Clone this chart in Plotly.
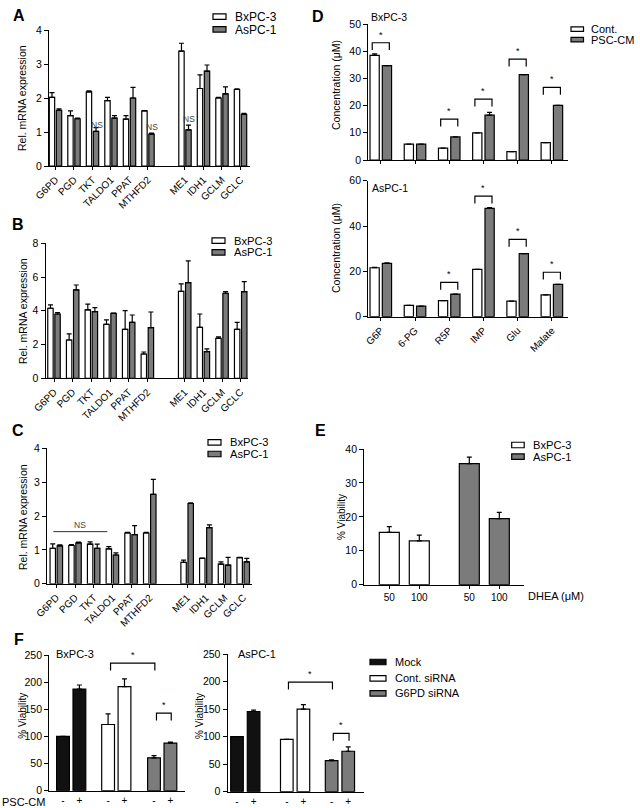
import plotly.graph_objects as go

W, H = 640, 808
FONT = "Liberation Sans, Arial, sans-serif"
GRAY = "#7b7b7b"
WHITE = "#ffffff"
BLACK = "#111111"

# ---------------- data ----------------
genes = ["G6PD", "PGD", "TKT", "TALDO1", "PPAT", "MTHFD2", "ME1", "IDH1", "GCLM", "GCLC"]
gene_pos = [0, 1, 2, 3, 4, 5, 7, 8, 9, 10]

A_bx = [2.02, 1.48, 2.18, 1.92, 1.38, 1.62, 3.38, 2.28, 2.00, 2.25]
A_bx_err = [0.14, 0.14, 0.03, 0.10, 0.10, 0.01, 0.23, 0.40, 0.02, 0.02]
A_as = [1.64, 1.39, 1.02, 1.41, 2.00, 0.94, 1.06, 2.79, 2.12, 1.52]
A_as_err = [0.04, 0.02, 0.11, 0.07, 0.31, 0.03, 0.14, 0.18, 0.21, 0.03]
A_ns_idx = [2, 5, 6]
A_ns_y = [1.22, 1.16, 1.38]

B_bx = [4.15, 2.27, 4.05, 3.20, 2.90, 1.44, 5.16, 3.02, 2.37, 2.90]
B_bx_err = [0.20, 0.36, 0.34, 0.26, 1.11, 0.12, 0.43, 0.79, 0.08, 0.42]
B_as = [3.81, 5.24, 3.95, 3.85, 3.32, 3.00, 5.67, 1.58, 5.04, 5.14]
B_as_err = [0.09, 0.29, 0.24, 0.02, 0.43, 0.93, 1.29, 0.16, 0.10, 0.59]

C_bx = [1.05, 1.13, 1.17, 1.03, 1.50, 1.50, 0.63, 0.75, 0.58, 0.77]
C_bx_err = [0.13, 0.03, 0.07, 0.07, 0.02, 0.02, 0.07, 0.01, 0.07, 0.01]
C_as = [1.12, 1.21, 1.05, 0.85, 1.45, 2.64, 2.37, 1.66, 0.55, 0.65]
C_as_err = [0.03, 0.02, 0.12, 0.06, 0.27, 0.44, 0.02, 0.08, 0.23, 0.10]
C_ns_span = [-0.16, 2.73]
C_ns_line_y = 1.54
C_ns_text_y = 1.75

metabolites = ["G6P", "6-PG", "R5P", "IMP", "Glu", "Malate"]
Dtop_cont = [38.5, 5.8, 4.4, 10.0, 3.1, 6.4]
Dtop_cont_err = [0.5, 0, 0, 0, 0, 0]
Dtop_cm = [34.7, 5.8, 8.5, 16.5, 31.4, 20.1]
Dtop_cm_err = [0, 0, 0, 1.0, 0, 0]
Dtop_sig_idx = [0, 2, 3, 4, 5]
Dtop_sig_y = [43.1, 15.0, 22.4, 37.1, 26.7]

Dbot_cont = [21.6, 5.0, 7.1, 20.9, 6.9, 9.6]
Dbot_cont_err = [0.2, 0, 0, 0, 0, 0]
Dbot_cm = [23.5, 4.7, 10.0, 47.8, 27.8, 14.3]
Dbot_cm_err = [0.3, 0, 0, 0.3, 0, 0]
Dbot_sig_idx = [2, 3, 4, 5]
Dbot_sig_y = [15.1, 53.2, 34.1, 19.6]

dhea_labels = ["50", "100", "50", "100"]
E_vals = [15.4, 12.9, 35.7, 19.5]
E_err = [1.7, 1.7, 1.9, 1.8]

psc_signs = ["-", "+", "-", "+", "-", "+"]
F_left = [100, 187.4, 122, 191.6, 60.5, 87.7]
F_left_err = [0, 7.3, 19.5, 14.4, 4.2, 1.8]
F_left_sig = [(2, 4, 235), (4, 5, 143)]
F_right = [100, 145.6, 94.9, 150, 56.3, 73.4]
F_right_err = [0, 2.4, 0, 8, 1.7, 8]
F_right_sig = [(2, 4, 199), (4, 5, 106)]

# ---------------- figure ----------------
fig = go.Figure()
annotations = []
shapes = []


def px(xp, yp):
    return xp / W, 1 - yp / H


def bars(ax, xs, ys, errs, colors, width):
    fig.add_trace(go.Bar(
        x=xs, y=ys, width=width,
        marker=dict(color=colors, line=dict(color="black", width=1.2)),
        error_y=dict(type="data", array=errs, arrayminus=[0] * len(ys), symmetric=False,
                     color="black", thickness=1.2, width=2.5, visible=True),
        xaxis="x" + ax, yaxis="y" + ax, showlegend=False, hoverinfo="skip"))


def axes(ax, xdom, ydom, xrange, yrange, ytickvals, xtickvals, xticktext=None,
         xtickangle=0, xticks="outside", xlabels=True, xticklen=3):
    xa = dict(domain=[xdom[0] / W, xdom[1] / W], range=xrange, anchor="y" + ax,
              showline=True, linecolor="black", linewidth=1.3, ticks=xticks, ticklen=xticklen,
              tickwidth=1.2, tickcolor="black", showgrid=False, zeroline=False,
              tickmode="array", tickvals=xtickvals, ticktext=xticktext, tickangle=xtickangle,
              showticklabels=xlabels, tickfont=dict(size=10, color="black", family=FONT),
              fixedrange=True, automargin=False)
    ya = dict(domain=[1 - ydom[1] / H, 1 - ydom[0] / H], range=yrange, anchor="x" + ax,
              showline=True, linecolor="black", linewidth=1.3, ticks="outside", ticklen=4,
              tickwidth=1.2, tickcolor="black", showgrid=False, zeroline=False,
              tickmode="array", tickvals=ytickvals,
              tickfont=dict(size=10.5, color="black", family=FONT), fixedrange=True,
              automargin=False)
    fig.update_layout(**{"xaxis" + ax: xa, "yaxis" + ax: ya})


def text(xp, yp, s, size=11, bold=False, angle=0, xanchor="center", color="black", height=None):
    x, y = px(xp, yp)
    a = dict(x=x, y=y, xref="paper", yref="paper", text=s, showarrow=False,
             textangle=angle, xanchor=xanchor, yanchor="middle", borderpad=0,
             font=dict(size=size, family=FONT, color=color,
                       weight="bold" if bold else "normal"))
    if height:
        a["height"] = height
    annotations.append(a)


def legend(x0, y_list, labels, fills, size=12, w=13, h=5.5, gap=8):
    for yc, lab, fc in zip(y_list, labels, fills):
        a0, b0 = px(x0, yc - h / 2)
        a1, b1 = px(x0 + w, yc + h / 2)
        shapes.append(dict(type="rect", xref="paper", yref="paper", x0=a0, x1=a1, y0=b1, y1=b0,
                           fillcolor=fc, line=dict(color="black", width=1.2)))
        text(x0 + w + gap, yc, lab, size=size, xanchor="left", height=size - 1)


def bracket(ax, x0, x1, ytop, drop, star_off, star_size=9):
    shapes.append(dict(type="path", xref="x" + ax, yref="y" + ax,
                       path=f"M {x0},{ytop - drop} L {x0},{ytop} L {x1},{ytop} L {x1},{ytop - drop}",
                       line=dict(color="black", width=1.2)))
    annotations.append(dict(x=(x0 + x1) / 2, y=ytop + star_off, xref="x" + ax, yref="y" + ax,
                            text="*", showarrow=False, xanchor="center", yanchor="middle",
                            font=dict(size=star_size, family=FONT, color="black")))


OFF, BW = 0.19, 0.29

# ---- Panel A ----
bars("", [p - OFF for p in gene_pos], A_bx, A_bx_err, WHITE, BW)
bars("", [p + OFF for p in gene_pos], A_as, A_as_err, GRAY, BW)
axes("", (49, 250), (30, 166), [-0.351, 10.514], [0, 4], [0, 1, 2, 3, 4], gene_pos, genes, -45)
for i, yv in zip(A_ns_idx, A_ns_y):
    annotations.append(dict(x=gene_pos[i] + OFF + 0.05, y=yv, xref="x", yref="y", text="NS",
                            showarrow=False, xanchor="center", yanchor="middle",
                            font=dict(size=8.5, family=FONT, color="#444444")))
text(19, 15, "A", 16, True)
text(22, 98, "Rel. mRNA expression", 10.5, angle=-90)
legend(213, [16.7, 29.3], ["BxPC-3", "AsPC-1"], [WHITE, GRAY])

# ---- Panel B ----
bars("2", [p - OFF for p in gene_pos], B_bx, B_bx_err, WHITE, BW)
bars("2", [p + OFF for p in gene_pos], B_as, B_as_err, GRAY, BW)
axes("2", (45.7, 248.3), (243.3, 378.3), [-0.445, 10.407], [0, 8], [0, 2, 4, 6, 8], gene_pos, genes, -45)
text(18, 224, "B", 16, True)
text(23, 311, "Rel. mRNA expression", 10.5, angle=-90)
legend(212, [240.7, 252.3], ["BxPC-3", "AsPC-1"], [WHITE, GRAY], size=11.2)

# ---- Panel C ----
bars("3", [p - OFF for p in gene_pos], C_bx, C_bx_err, WHITE, BW)
bars("3", [p + OFF for p in gene_pos], C_as, C_as_err, GRAY, BW)
axes("3", (47, 252), (448.3, 583.8), [-0.498, 10.47], [0, 4], [0, 1, 2, 3, 4], gene_pos, genes, -45)
shapes.append(dict(type="line", xref="x3", yref="y3", x0=C_ns_span[0], x1=C_ns_span[1],
                   y0=C_ns_line_y, y1=C_ns_line_y, line=dict(color="#333333", width=1)))
annotations.append(dict(x=sum(C_ns_span) / 2, y=C_ns_text_y, xref="x3", yref="y3", text="NS",
                        showarrow=False, xanchor="center", yanchor="middle",
                        font=dict(size=8.5, family=FONT, color="#444444")))
text(18, 430, "C", 16, True)
text(23, 517, "Rel. mRNA expression", 10.5, angle=-90)
legend(208, [442.3, 454], ["BxPC-3", "AsPC-1"], [WHITE, GRAY], size=11.2)

# ---- Panel D ----
d_pos = list(range(len(metabolites)))
DOFF, DBW = 0.18, 0.27
bars("4", [p - DOFF for p in d_pos], Dtop_cont, Dtop_cont_err, WHITE, DBW)
bars("4", [p + DOFF for p in d_pos], Dtop_cm, Dtop_cm_err, GRAY, DBW)
axes("4", (368.3, 568.3), (24, 160), [-0.365, 5.48], [0, 50], [0, 10, 20, 30, 40, 50], d_pos, xlabels=False)
for i, yv in zip(Dtop_sig_idx, Dtop_sig_y):
    bracket("4", d_pos[i] - 0.25, d_pos[i] + 0.25, yv, 50 * 0.054, 50 * 0.06)
bars("5", [p - DOFF for p in d_pos], Dbot_cont, Dbot_cont_err, WHITE, DBW)
bars("5", [p + DOFF for p in d_pos], Dbot_cm, Dbot_cm_err, GRAY, DBW)
axes("5", (368.3, 568.3), (180.7, 316.7), [-0.365, 5.48], [0, 60], [0, 20, 40, 60], d_pos, metabolites, -45)
for i, yv in zip(Dbot_sig_idx, Dbot_sig_y):
    bracket("5", d_pos[i] - 0.25, d_pos[i] + 0.25, yv, 60 * 0.054, 60 * 0.06)
text(318, 16, "D", 16, True)
text(336, 85, "Concentration (μM)", 10.5, angle=-90)
text(336, 248, "Concentration (μM)", 10.5, angle=-90)
text(389, 17, "BxPC-3", 10.5)
text(390, 188, "AsPC-1", 10.5)
legend(571, [29.2, 39.7], ["Cont.", "PSC-CM"], [WHITE, GRAY], size=11, w=12.5, h=4.5, gap=6)

# ---- Panel E ----
e_pos = [0, 1, 2.667, 3.667]
bars("6", e_pos, E_vals, E_err, [WHITE, WHITE, GRAY, GRAY], 0.667)
axes("6", (364.3, 524), (449, 584.7), [-0.833, 4.49], [0, 40], [0, 10, 20, 30, 40], e_pos, dhea_labels, 0)
text(320, 430, "E", 16, True)
text(341, 517, "% Viability", 10, angle=-90)
text(526.7, 596, "DHEA (μM)", 11, xanchor="left")
legend(511.7, [445, 456.7], ["BxPC-3", "AsPC-1"], [WHITE, GRAY], size=11.2, w=12.5, gap=8)

# ---- Panel F ----
fl_pos = [0, 1, 2.75, 3.75, 5.55, 6.55]
fr_pos = [0, 1, 3, 4, 5.7, 6.7]
f_colors = [BLACK, BLACK, WHITE, WHITE, GRAY, GRAY]
bars("7", fl_pos, F_left, F_left_err, f_colors, 0.78)
axes("7", (49.3, 185), (655, 790.7), [-0.835, 7.44], [0, 250], [0, 50, 100, 150, 200, 250],
     fl_pos, psc_signs, 0, xticks="", xticklen=0)
for a, b, yv in F_left_sig:
    bracket("7", fl_pos[a] + 0.15, fl_pos[b] + 0.05, yv, 250 * 0.054, 250 * 0.06)
bars("8", fr_pos, F_right, F_right_err, f_colors, 0.76)
axes("8", (227.7, 364), (654, 791.7), [-0.56, 7.65], [0, 250], [0, 50, 100, 150, 200, 250],
     fr_pos, psc_signs, 0, xticks="", xticklen=0)
for a, b, yv in F_right_sig:
    bracket("8", fr_pos[a] + 0.1, fr_pos[b] + 0.05, yv, 250 * 0.054, 250 * 0.06)
text(19, 639, "F", 16, True)
text(21.7, 716, "% Viability", 10, angle=-90)
text(199, 716, "% Viability", 10, angle=-90)
text(75, 654, "BxPC-3", 11)
text(256.7, 654, "AsPC-1", 11)
text(23, 801.7, "PSC-CM", 11)
legend(370, [662, 678.3, 693.3], ["Mock", "Cont. siRNA", "G6PD siRNA"], [BLACK, WHITE, GRAY],
       size=11, w=16, h=5.5, gap=8)

fig.update_layout(width=W, height=H, margin=dict(l=0, r=0, t=0, b=0, autoexpand=False),
                  paper_bgcolor="white", plot_bgcolor="white", barmode="overlay",
                  showlegend=False, annotations=annotations, shapes=shapes,
                  font=dict(family=FONT, color="black"))
fig.write_html("out.html", config={"displayModeBar": False},
               post_script="document.body.style.margin='0';document.body.style.overflow='hidden';")
